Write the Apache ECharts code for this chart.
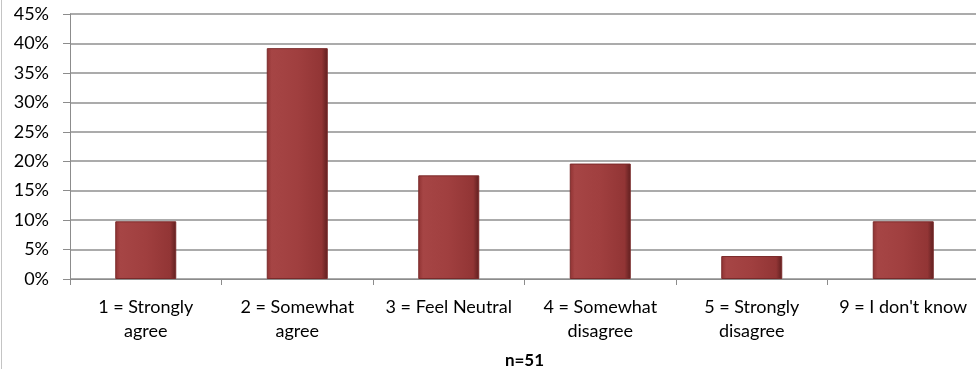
<!DOCTYPE html>
<html>
<head>
<meta charset="utf-8">
<script src="https://cdn.jsdelivr.net/npm/echarts@6/dist/echarts.min.js"></script>
<style>
html,body{margin:0;padding:0;background:#fff;}
#c{width:976px;height:369px;}
</style>
</head>
<body>
<div id="c"></div>
<script>
const categories = ["1 = Strongly\nagree", "2 = Somewhat\nagree", "3 = Feel Neutral", "4 = Somewhat\ndisagree", "5 = Strongly\ndisagree", "9 = I don't know"];
const values = [9.8, 39.2, 17.6, 19.6, 3.9, 9.8];
const yTicks = [0, 5, 10, 15, 20, 25, 30, 35, 40, 45];
const xTitle = "n=51";

const chart = echarts.init(document.getElementById('c'), null, {renderer: 'canvas'});
const font = 'Lato, "Open Sans", sans-serif';
chart.setOption({
  animation: false,
  graphic: [{
    type: 'line', shape: {x1: 1.5, y1: 0, x2: 1.5, y2: 369},
    style: {stroke: '#c4c4c4', lineWidth: 1}
  }],
  grid: {left: 70, top: 14, width: 909, height: 265, containLabel: false, outerBoundsMode: 'none'},
  xAxis: {
    type: 'category',
    data: categories,
    name: xTitle,
    nameLocation: 'middle',
    nameGap: 73,
    nameTextStyle: {fontFamily: font, fontSize: 17, fontWeight: 'bold', color: '#000'},
    axisLine: {lineStyle: {color: '#8c8c8c', width: 1}},
    axisTick: {show: true, alignWithLabel: false, length: 6, lineStyle: {color: '#8c8c8c'}},
    axisLabel: {interval: 0, fontFamily: font, fontSize: 18, color: '#000', lineHeight: 24, margin: 16}
  },
  yAxis: {
    type: 'value',
    min: 0, max: 45, interval: 5,
    axisLine: {show: true, lineStyle: {color: '#8c8c8c'}},
    axisTick: {show: true, length: 7, lineStyle: {color: '#8c8c8c'}},
    splitLine: {lineStyle: {color: '#8f8f8f', width: 1.5}},
    axisLabel: {fontFamily: font, fontSize: 18, color: '#000', margin: 21,
      formatter: v => yTicks.indexOf(v) >= 0 ? v + '%' : ''}
  },
  series: [{
    type: 'bar',
    data: values,
    barWidth: 61,
    itemStyle: {
      color: {
        type: 'linear', x: 0, y: 0, x2: 1, y2: 0,
        colorStops: [
          {offset: 0, color: '#8f3232'},
          {offset: 0.08, color: '#a64545'},
          {offset: 0.5, color: '#a03f3f'},
          {offset: 0.9, color: '#923535'},
          {offset: 1, color: '#5e1f1f'}
        ]
      },
      borderColor: '#7a2a2a',
      borderWidth: 1
    }
  }]
});
</script>
</body>
</html>
